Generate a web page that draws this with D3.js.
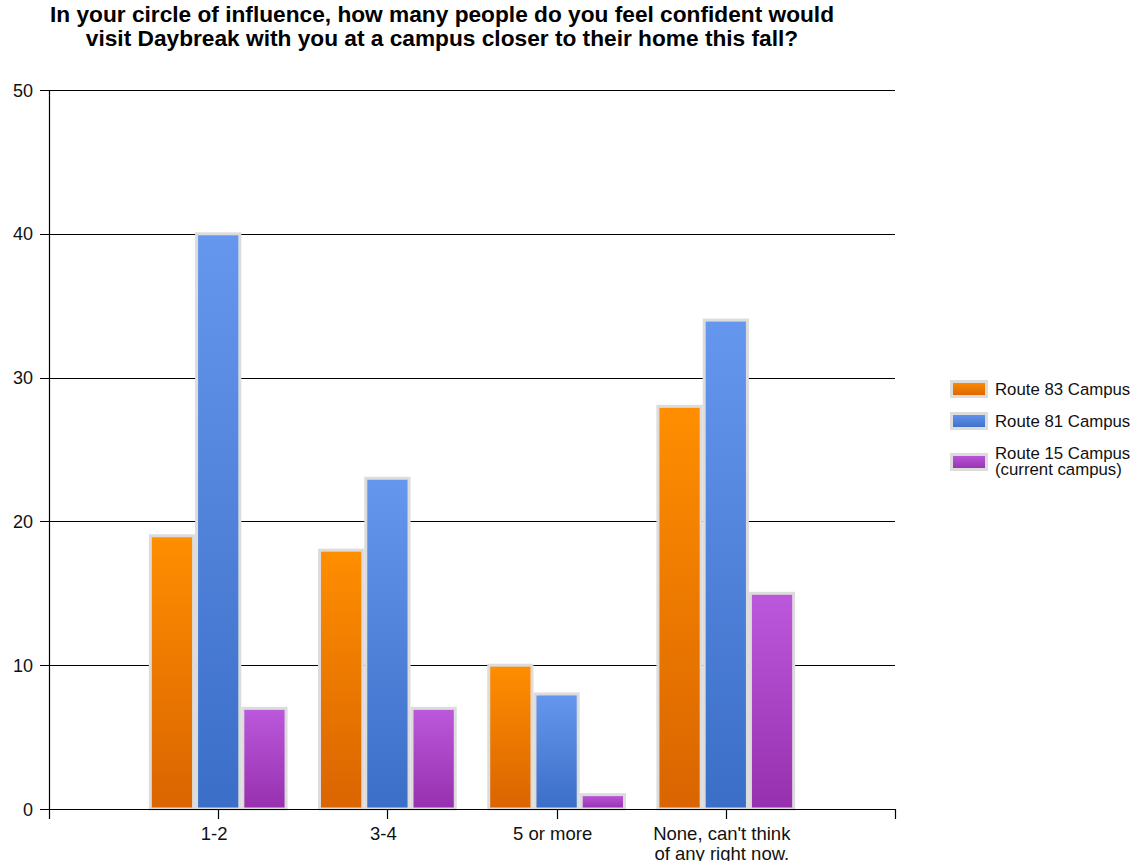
<!DOCTYPE html>
<html>
  <head>
    <meta charset="utf-8" />
    <title>Daybreak campus survey</title>
    <script src="https://cdn.jsdelivr.net/npm/d3@7"></script>
    <style type="text/css">
      body { margin: 0; background: #fff; }
      svg text { font-family: 'Liberation Sans', Arial, sans-serif; }
    </style>
  </head>
  <body>
    <svg class="chart"></svg>
    <script type="application/javascript">
      const categories = ["1-2", "3-4", "5 or more", "None, can't think|of any right now."]
      const seriesNames = ["Route 83 Campus", "Route 81 Campus", "Route 15 Campus|(current campus)"]
      const route83 = [19, 18, 10, 28]
      const route81 = [40, 23, 8, 34]
      const route15 = [7, 7, 1, 15]
      const yTicks = [0, 10, 20, 30, 40, 50]
      const titleLines = [
        "In your circle of influence, how many people do you feel confident would",
        "visit Daybreak with you at a campus closer to their home this fall?"
      ]

      const width = 1136
      const height = 861
      const margin = {top: 90, right: 241, bottom: 52, left: 49}
      const values = [route83, route81, route15]
      const colors = [
        ["#ff8e00", "#da6400"],
        ["#6697ee", "#3b6ec7"],
        ["#bc58dc", "#9630ae"]
      ]

      const svg = d3.select("svg.chart")
        .attr("width", width)
        .attr("height", height)

      const defs = svg.append("defs")
      colors.forEach((c, i) => {
        const g = defs.append("linearGradient")
          .attr("id", "grad" + i)
          .attr("x1", 0).attr("y1", 0).attr("x2", 0).attr("y2", 1)
        g.append("stop").attr("offset", "0%").attr("stop-color", c[0])
        g.append("stop").attr("offset", "100%").attr("stop-color", c[1])
      })

      // category positions sit at 1..n on a 0..n+1 axis
      const x = d3.scaleLinear()
        .domain([0, categories.length + 1])
        .range([margin.left, width - margin.right])

      const y = d3.scaleLinear()
        .domain([0, 50])
        .range([height - margin.bottom, margin.top])

      const step = x(1) - x(0)
      const groupWidth = step * 0.82
      const barWidth = groupWidth / seriesNames.length

      // title
      svg.append("g")
        .selectAll("text")
        .data(titleLines)
        .join("text")
          .attr("x", 442)
          .attr("y", (d, i) => 22 + i * 24)
          .attr("text-anchor", "middle")
          .style("font-size", "22.7px")
          .style("font-weight", "bold")
          .style("fill", "#000")
          .text(d => d)

      // grid lines
      svg.append("g")
        .selectAll("line")
        .data(yTicks)
        .join("line")
          .attr("x1", margin.left - 9)
          .attr("x2", width - margin.right)
          .attr("y1", d => Math.round(y(d)) + 0.5)
          .attr("y2", d => Math.round(y(d)) + 0.5)
          .attr("stroke", "#000")
          .attr("stroke-width", 1.2)

      // y axis labels
      svg.append("g")
        .selectAll("text")
        .data(yTicks)
        .join("text")
          .attr("x", 33)
          .attr("y", d => y(d) + 6.5)
          .attr("text-anchor", "end")
          .style("font-size", "18px")
          .style("fill", "#111")
          .text(d => d)

      // bars
      svg.append("g")
        .selectAll("g")
        .data(values)
        .join("g")
          .attr("fill", (d, i) => `url(#grad${i})`)
        .selectAll("rect")
        .data((d, si) => d.map((v, ci) => ({v, ci, si})))
        .join("rect")
          .attr("x", d => x(d.ci + 1) - groupWidth / 2 + d.si * barWidth + 1.5)
          .attr("y", d => y(d.v))
          .attr("width", barWidth - 3)
          .attr("height", d => y(0) - y(d.v))
          .attr("stroke", "#dcdcdc")
          .attr("stroke-width", 3)

      // x axis
      const xAxis = svg.append("g")
      xAxis.append("line")
        .attr("x1", margin.left)
        .attr("x2", width - margin.right)
        .attr("y1", Math.round(y(0)) + 0.5)
        .attr("y2", Math.round(y(0)) + 0.5)
        .attr("stroke", "#000")
        .attr("stroke-width", 1.2)
      xAxis.append("line")
        .attr("x1", margin.left + 0.5)
        .attr("x2", margin.left + 0.5)
        .attr("y1", y(50))
        .attr("y2", y(0) + 10)
        .attr("stroke", "#000")
        .attr("stroke-width", 1.2)
      xAxis.selectAll("line.tick")
        .data(d3.range(1, categories.length + 2))
        .join("line")
          .attr("class", "tick")
          .attr("x1", d => Math.round(x(d)) + 0.5)
          .attr("x2", d => Math.round(x(d)) + 0.5)
          .attr("y1", y(0))
          .attr("y2", y(0) + 10)
          .attr("stroke", "#000")
          .attr("stroke-width", 1.2)
      xAxis.selectAll("text")
        .data(categories)
        .join("text")
          .attr("text-anchor", "middle")
          .style("font-size", "18.5px")
          .style("fill", "#111")
          .each(function(d, i) {
            const t = d3.select(this)
            d.split("|").forEach((line, j) => {
              t.append("tspan")
                .attr("x", x(i + 1) - 4)
                .attr("y", y(0) + 31 + j * 20)
                .text(line)
            })
          })

      // legend
      const legend = svg.append("g")
        .attr("transform", "translate(950, 380)")
      const legendY = [0, 32, 73]
      const items = legend.selectAll("g")
        .data(seriesNames)
        .join("g")
          .attr("transform", (d, i) => `translate(0, ${legendY[i]})`)
      items.append("rect")
        .attr("x", 1.5)
        .attr("y", 1.5)
        .attr("width", 35)
        .attr("height", 15)
        .attr("fill", (d, i) => `url(#grad${i})`)
        .attr("stroke", "#dcdcdc")
        .attr("stroke-width", 3)
      items.append("text")
        .style("font-size", "16.8px")
        .style("fill", "#111")
        .each(function(d) {
          const t = d3.select(this)
          const lines = d.split("|")
          lines.forEach((line, j) => {
            t.append("tspan")
              .attr("x", 45)
              .attr("y", 15 - (lines.length - 1) * 9 + j * 16)
              .text(line)
          })
        })
    </script>
  </body>
</html>
